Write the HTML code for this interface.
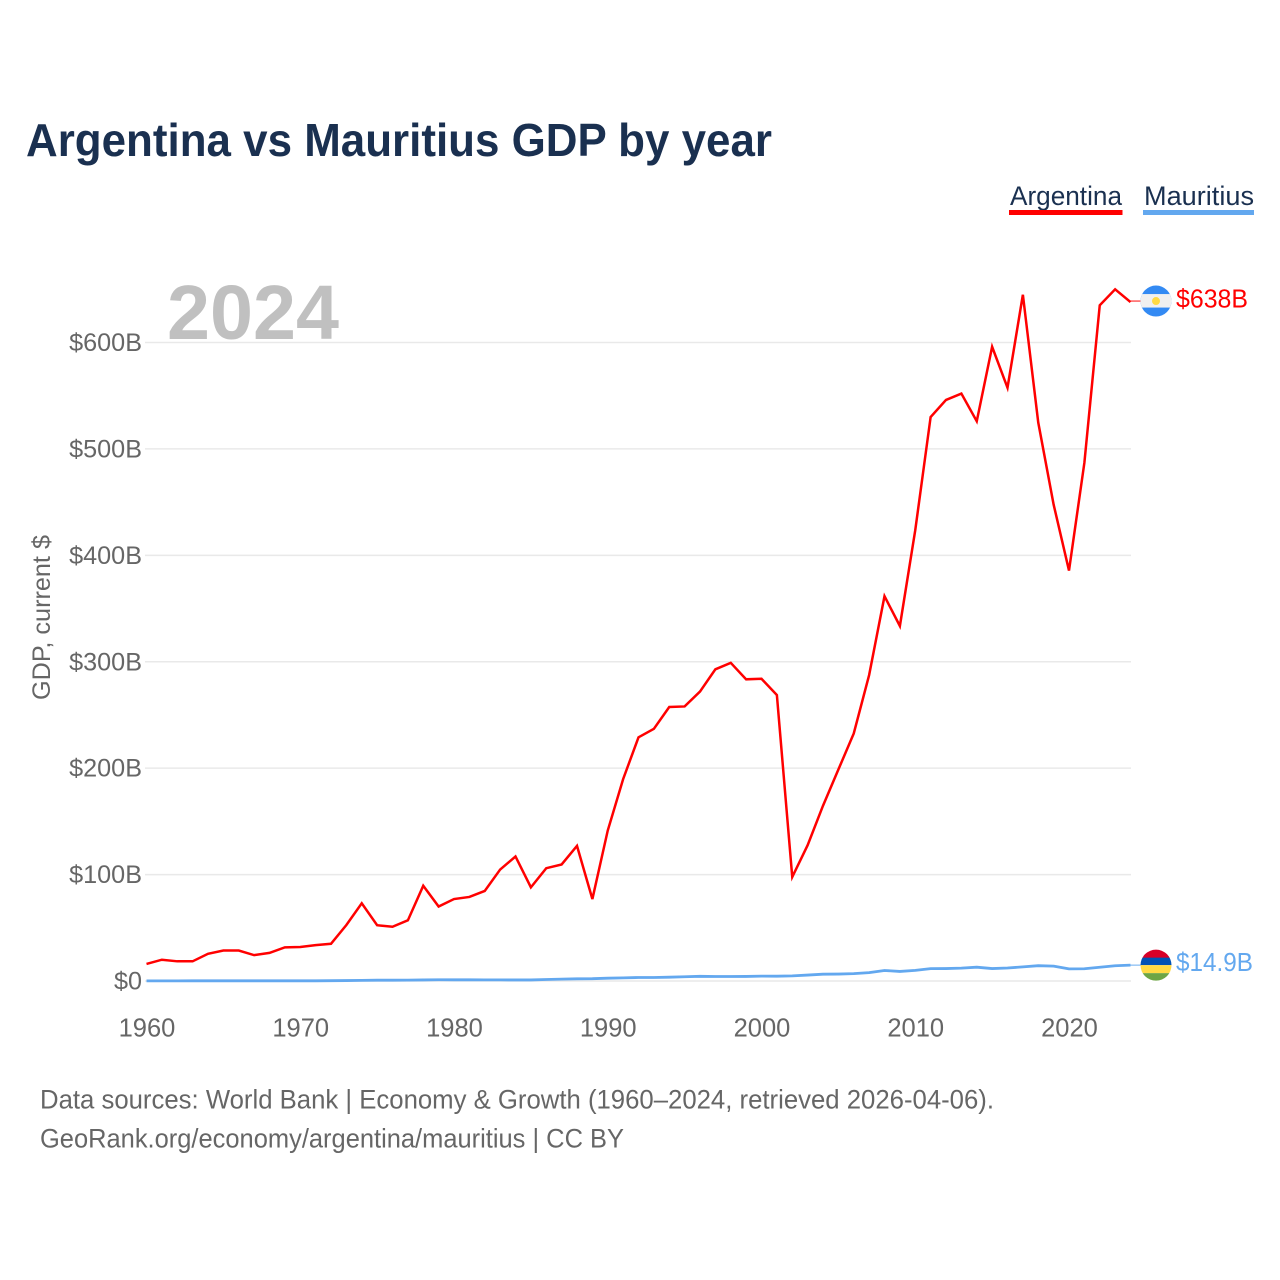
<!DOCTYPE html>
<html lang="en">
<head>
<meta charset="utf-8">
<title>Argentina vs Mauritius GDP by year</title>
<style>
html,body{margin:0;padding:0;background:#fff;}
svg{display:block;}
text{font-family:"Liberation Sans",sans-serif;}
</style>
</head>
<body>
<svg id="chart" width="1280" height="1280" viewBox="0 0 1280 1280" xmlns="http://www.w3.org/2000/svg">
  <defs>
    <clipPath id="flag-clip-top"><circle id="clip-top" cx="1156" cy="301" r="15.5"></circle></clipPath>
    <clipPath id="flag-clip-bottom"><circle id="clip-bottom" cx="1156" cy="965" r="15.5"></circle></clipPath>
  </defs>
  <rect x="0" y="0" width="1280" height="1280" fill="#ffffff"></rect>
  <text x="26" y="156" font-size="46" font-weight="700" fill="#1a3050" textLength="746" lengthAdjust="spacingAndGlyphs">Argentina vs Mauritius GDP by year</text>

  <g>
    <text x="1010" y="205" font-size="27" fill="#1a3050" textLength="112" lengthAdjust="spacingAndGlyphs">Argentina</text>
    <rect x="1009" y="210" width="113.500" height="5" fill="#ff0000"></rect>
  </g>
  <g>
    <text x="1144" y="205" font-size="27" fill="#1a3050" textLength="110" lengthAdjust="spacingAndGlyphs">Mauritius</text>
    <rect x="1143" y="210" width="111" height="5" fill="#63a8ef"></rect>
  </g>

  <text transform="translate(50,700) rotate(-90)" font-size="25" fill="#666666" textLength="165" lengthAdjust="spacingAndGlyphs">GDP, current $</text>

  <g id="grid"></g>
  <g id="yticks"></g>
  <g id="xticks"></g>

  <text x="167" y="339" font-size="77" font-weight="700" fill="#c0c0c0" textLength="172" lengthAdjust="spacingAndGlyphs">2024</text>

  <g id="series"></g>

  <g id="flag-argentina" clip-path="url(#flag-clip-top)"></g>
  <g id="flag-mauritius" clip-path="url(#flag-clip-bottom)"></g>

  <text x="40" y="1108.500" font-size="27" fill="#666666" textLength="954" lengthAdjust="spacingAndGlyphs">Data sources: World Bank | Economy &amp; Growth (1960–2024, retrieved 2026-04-06).</text>
  <text x="40" y="1147.500" font-size="27" fill="#666666" textLength="584" lengthAdjust="spacingAndGlyphs">GeoRank.org/economy/argentina/mauritius | CC BY</text>
</svg>

<script>
const years = [1960,1961,1962,1963,1964,1965,1966,1967,1968,1969,1970,1971,1972,1973,1974,1975,1976,1977,1978,1979,1980,1981,1982,1983,1984,1985,1986,1987,1988,1989,1990,1991,1992,1993,1994,1995,1996,1997,1998,1999,2000,2001,2002,2003,2004,2005,2006,2007,2008,2009,2010,2011,2012,2013,2014,2015,2016,2017,2018,2019,2020,2021,2022,2023,2024];
const argentinaGdp = [16,20,18.5,18.5,25.6,28.6,28.6,24.3,26.4,31.6,32,33.7,35,52.6,73,52.4,51,57,89.5,70,77,79,84.6,104.7,117,88,106,109.5,127,77,141.4,189.7,229,237,257.5,258,272,292.9,299,283.5,284,268.7,97.7,127.6,164.7,198.7,232.6,287.5,361.6,333.6,423.6,530,546,552,526,596,557.5,644.9,524.8,447.7,385.7,487,635,650,638];
const mauritiusGdp = [0.14,0.14,0.15,0.16,0.17,0.17,0.17,0.17,0.17,0.17,0.18,0.2,0.27,0.4,0.55,0.75,0.76,0.85,1.0,1.15,1.1,1.1,1.05,1.05,0.98,1.0,1.4,1.75,2.05,2.15,2.65,2.9,3.3,3.3,3.6,4.0,4.4,4.2,4.2,4.3,4.6,4.5,4.8,5.6,6.4,6.5,6.9,7.9,9.9,9.0,10.0,11.6,11.7,12.1,13.0,11.7,12.2,13.3,14.4,14.0,11.4,11.5,12.9,14.3,14.9];
const yTickValues = [0,100,200,300,400,500,600];
const yTickLabels = ["$0","$100B","$200B","$300B","$400B","$500B","$600B"];
const xTickValues = [1960,1970,1980,1990,2000,2010,2020];
const xTickLabels = ["1960","1970","1980","1990","2000","2010","2020"];

const NS = 'http://www.w3.org/2000/svg';
const plot = {x0:146.5, x1:1130.5, y0:981, y1:342.5, yearMin:1960, yearMax:2024, valMax:600};
function xScale(year){ return plot.x0 + (year - plot.yearMin) / (plot.yearMax - plot.yearMin) * (plot.x1 - plot.x0); }
function yScale(value){ return plot.y0 + value / plot.valMax * (plot.y1 - plot.y0); }
function make(tag, attrs, parent){
  const el = document.createElementNS(NS, tag);
  for (const k in attrs) el.setAttribute(k, attrs[k]);
  parent.appendChild(el);
  return el;
}
function linePath(values){
  return values.map(function(v, i){ return (i ? 'L' : 'M') + xScale(years[i]).toFixed(2) + ' ' + yScale(v).toFixed(2); }).join(' ');
}
function fmt(v){ return '$' + (v >= 100 ? Math.round(v) : v.toFixed(1)) + 'B'; }

const gridG = document.getElementById('grid');
const yG = document.getElementById('yticks');
yTickValues.forEach(function(v, i){
  const y = yScale(v);
  const line = make('line', {x1:plot.x0 - 1.5, x2:plot.x1 + 0.5, y1:y, y2:y, stroke:'#e9e9e9', 'stroke-width':1.5}, gridG);
  
  
  const t = make('text', {x:142, y:y + 8.5, 'text-anchor':'end', 'font-size':25.2, fill:'#666666'}, yG);
  t.textContent = yTickLabels[i];
  
  
});

const xG = document.getElementById('xticks');
xTickValues.forEach(function(v, i){
  const t = make('text', {x:xScale(v) + 0.5, y:1036.5, 'text-anchor':'middle', 'font-size':25.5, fill:'#666666'}, xG);
  t.textContent = xTickLabels[i];
  
  
});

const seriesG = document.getElementById('series');
const redColor = '#ff0000';
const blueColor = '#63a8ef';

const argLine = make('path', {d:linePath(argentinaGdp), fill:'none', stroke:redColor, 'stroke-width':2.5, 'stroke-linejoin':'miter'}, seriesG);



const mauLine = make('path', {d:linePath(mauritiusGdp), fill:'none', stroke:blueColor, 'stroke-width':2.8, 'stroke-linejoin':'round'}, seriesG);



const argLast = argentinaGdp[argentinaGdp.length - 1];
const mauLast = mauritiusGdp[mauritiusGdp.length - 1];
const argY = yScale(argLast);
const mauY = yScale(mauLast);
const lastX = xScale(years[years.length - 1]);
const argCy = argY - 1;
const mauCy = mauY;

const argConn = make('line', {x1:lastX, x2:1141, y1:argCy, y2:argCy, stroke:redColor, 'stroke-width':1.2, opacity:0.8}, seriesG);



const mauConn = make('line', {x1:lastX, x2:1141, y1:mauCy, y2:mauCy, stroke:blueColor, 'stroke-width':1.2, opacity:0.8}, seriesG);



const argLabel = make('text', {x:1176, y:argY + 5.5, 'font-size':25.5, fill:redColor, textLength:72, lengthAdjust:'spacingAndGlyphs'}, seriesG);
argLabel.textContent = fmt(argLast);



const mauLabel = make('text', {x:1176, y:mauY + 6, 'font-size':26, fill:blueColor, textLength:77, lengthAdjust:'spacingAndGlyphs'}, seriesG);
mauLabel.textContent = fmt(mauLast);



/* flags follow the final value of each series */
const fx = 1156;
document.getElementById('clip-top').setAttribute('cy', argCy);
document.getElementById('clip-bottom').setAttribute('cy', mauCy);

const fa = document.getElementById('flag-argentina');
make('rect', {x:fx - 16, y:argCy - 16, width:32, height:32, fill:'#338af3'}, fa);
make('rect', {x:fx - 16, y:argCy - 7, width:32, height:13.5, fill:'#f0f0f0'}, fa);
make('circle', {cx:fx, cy:argCy, r:4, fill:'#ffda44'}, fa);

const fm = document.getElementById('flag-mauritius');
make('rect', {x:fx - 16, y:mauCy - 16, width:32, height:9, fill:'#d80027'}, fm);
make('rect', {x:fx - 16, y:mauCy - 7.5, width:32, height:7.5, fill:'#0052b4'}, fm);
make('rect', {x:fx - 16, y:mauCy, width:32, height:8, fill:'#ffda44'}, fm);
make('rect', {x:fx - 16, y:mauCy + 8, width:32, height:9, fill:'#6da544'}, fm);
</script>
</body>
</html>
